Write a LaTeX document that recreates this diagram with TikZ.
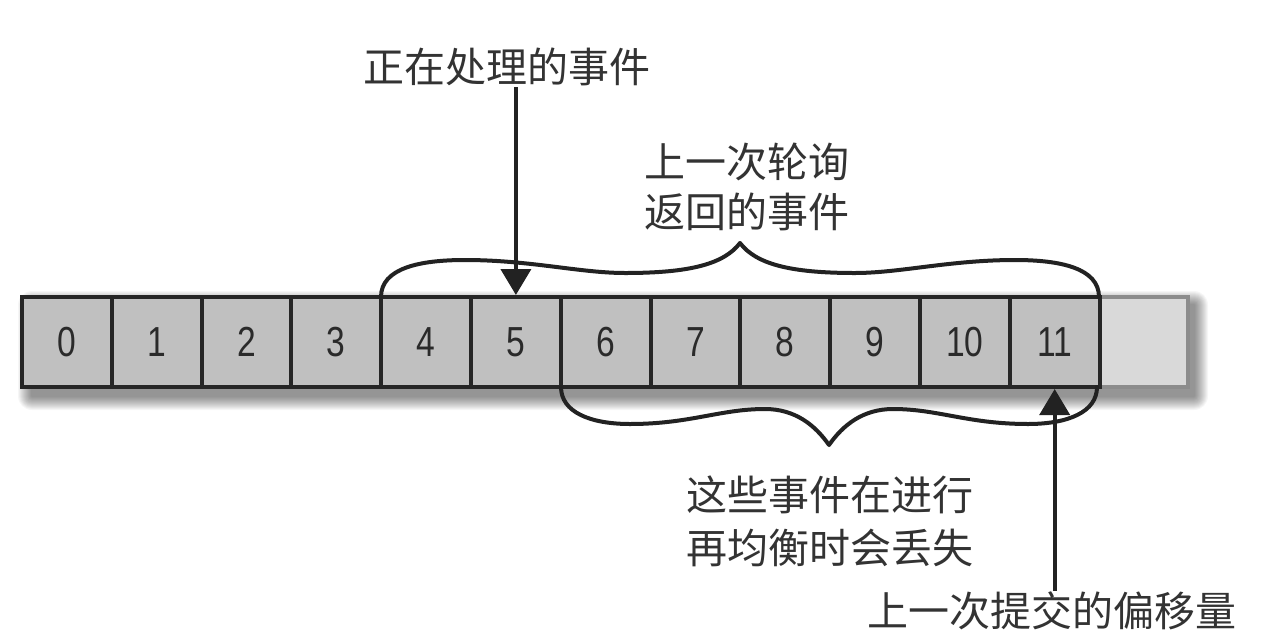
\documentclass[tikz,border=0pt]{standalone}
\usepackage{fontspec}
\usetikzlibrary{arrows.meta}
\newfontfamily\cjk{Noto Sans CJK SC}
\newfontfamily\numfont[FakeStretch=0.8]{Liberation Sans}
\definecolor{cellfill}{HTML}{C0C0C0}
\definecolor{cellline}{HTML}{262626}
\definecolor{lightfill}{HTML}{D9D9D9}
\definecolor{lightline}{HTML}{8C8C8C}
\definecolor{numcol}{HTML}{2A2A2A}
\definecolor{txtcol}{HTML}{333333}
\definecolor{linecol}{HTML}{222222}
\tikzset{
  cellbox/.style={draw=cellline, line width=4pt, fill=cellfill, minimum width=89.8pt,
    minimum height=90pt, inner sep=0pt, font=\numfont\fontsize{42}{42}\selectfont, text=numcol},
  lightbox/.style={cellbox, draw=lightline, fill=lightfill, minimum width=88pt},
  lbl/.style={inner sep=1pt, text=txtcol, align=center},
  arr/.style={line width=4pt, draw=linecol, -{Triangle[width=30pt,length=26pt]}},
  bracepath/.style={line width=4pt, draw=linecol, line join=round, line cap=round},
}
\begin{document}
\begin{tikzpicture}[x=1pt,y=-1pt]
\useasboundingbox (0,0) rectangle (1262,638);
\fill[white] (0,0) rectangle (1262,638);
% soft shadow
\foreach \i in {1,...,14}{
  \fill[black, opacity=0.035, rounded corners=\i pt] ({32-\i},{305-\i}) rectangle ({1194+\i},{396+\i});
}
% light cell
\node[lightbox] (c12) at (1144,342) {};
% cells
\foreach \i in {0,...,11}{
  \node[cellbox] (c\i) at ({22+89.8*(\i+0.5)},342) {\i};
}
% labels
\node[lbl, font=\cjk\fontsize{41}{50}\selectfont] (t1) at (507,67) {正在处理的事件};
\node[lbl, font=\cjk\fontsize{41}{50}\selectfont] (t2) at (747,187) {上一次轮询\\返回的事件};
\node[lbl, font=\cjk\fontsize{41}{53}\selectfont] (t3) at (830,521) {这些事件在进行\\再均衡时会丢失};
\node[lbl, font=\cjk\fontsize{41}{50}\selectfont] (t4) at (1052,611) {上一次提交的偏移量};
% top brace (cells 4 to 11)
\draw[bracepath] (381,297) .. controls (381,268) and (420,260) .. (465,260)
  .. controls (530,260) and (580,273) .. (625,273)
  .. controls (690,273) and (724,264) .. (740,243)
  .. controls (756,264) and (790,273) .. (855,273)
  .. controls (900,273) and (950,260) .. (1015,260)
  .. controls (1060,260) and (1099,268) .. (1099,297);
% bottom brace (cells 6 to 11)
\draw[bracepath] (561,387) .. controls (561,412) and (590,424) .. (630,424)
  .. controls (690,424) and (720,409) .. (765,409)
  .. controls (795,409) and (815,425) .. (829,445)
  .. controls (843,425) and (863,409) .. (893,409)
  .. controls (938,409) and (968,424) .. (1028,424)
  .. controls (1068,424) and (1097,412) .. (1097,387);
% arrows
\draw[arr] (c5.north |- t1.south) -- (c5.north);
\draw[arr] (c11.south |- t4.north) -- (c11.south);
\end{tikzpicture}
\end{document}
